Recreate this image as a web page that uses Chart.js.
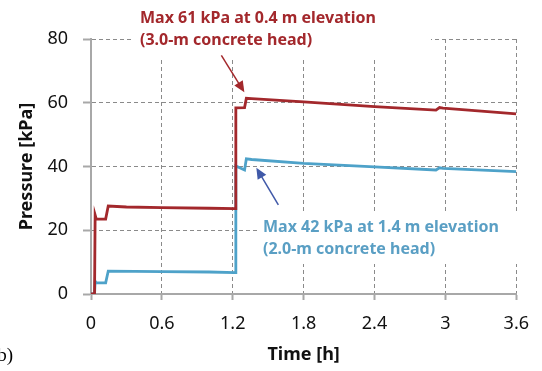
<!DOCTYPE html>
<html>
<head>
<meta charset="utf-8">
<script src="https://cdn.jsdelivr.net/npm/chart.js@4/dist/chart.umd.min.js"></script>
<style>
  html, body { margin: 0; padding: 0; background: #fff; }
  #wrap { width: 542px; height: 371px; position: relative; }
</style>
</head>
<body>
<div id="wrap"><canvas id="pressureCanvas" width="542" height="371"></canvas></div>
<script>
// 3.0-m concrete head (0.4 m elevation)
const redTimes = [0, 0.03, 0.035, 0.045, 0.124, 0.146, 0.3, 0.6, 1.0, 1.22, 1.226, 1.30, 1.315, 1.36, 1.8, 2.4, 2.92, 2.95, 2.98, 3.6];
const redValues = [0, 0, 24.8, 23.5, 23.5, 27.6, 27.3, 27.1, 26.9, 26.8, 58.4, 58.5, 61.4, 61.3, 60.3, 58.8, 57.7, 58.5, 58.3, 56.5];

// 2.0-m concrete head (1.4 m elevation)
const blueTimes = [0, 0.03, 0.035, 0.045, 0.124, 0.146, 0.6, 1.0, 1.22, 1.226, 1.30, 1.315, 1.36, 1.8, 2.4, 2.92, 2.95, 2.98, 3.6];
const blueValues = [0, 0, 4.0, 3.5, 3.5, 7.2, 7.0, 6.9, 6.7, 40.2, 38.9, 42.4, 42.2, 41.0, 39.9, 38.9, 39.6, 39.4, 38.4];

const xTicks = [0, 0.6, 1.2, 1.8, 2.4, 3, 3.6];
const yTicks = [0, 20, 40, 60, 80];

const redNote = ['Max 61 kPa at 0.4 m elevation', '(3.0-m concrete head)'];
const blueNote = ['Max 42 kPa at 1.4 m elevation', '(2.0-m concrete head)'];

const RED = '#a3282c';
const BLUE = '#4ea2c9';
const GRID = '#8a8a8a';
const AXIS = '#a8a8a8';

function toPoints(xs, ys) {
  return xs.map((x, i) => ({ x: x, y: ys[i] }));
}

function peakIndex(values) {
  return values.indexOf(Math.max(...values));
}

function arrow(ctx, x1, y1, x2, y2, color) {
  const ang = Math.atan2(y2 - y1, x2 - x1);
  const len = 11, half = 5;
  ctx.save();
  ctx.strokeStyle = color;
  ctx.fillStyle = color;
  ctx.lineWidth = 1.5;
  ctx.beginPath();
  ctx.moveTo(x1, y1);
  ctx.lineTo(x2 - Math.cos(ang) * len * 0.8, y2 - Math.sin(ang) * len * 0.8);
  ctx.stroke();
  ctx.beginPath();
  ctx.moveTo(x2, y2);
  ctx.lineTo(x2 - Math.cos(ang) * len + Math.sin(ang) * half, y2 - Math.sin(ang) * len - Math.cos(ang) * half);
  ctx.lineTo(x2 - Math.cos(ang) * len - Math.sin(ang) * half, y2 - Math.sin(ang) * len + Math.cos(ang) * half);
  ctx.closePath();
  ctx.fill();
  ctx.restore();
}

// white boxes under the notes hide the grid, then notes and arrows on top
const notesPlugin = {
  id: 'notes',
  beforeDatasetsDraw(chart) {
    const ctx = chart.ctx;
    ctx.save();
    ctx.fillStyle = '#fff';
    ctx.fillRect(131, 0, 300, 60);
    ctx.fillRect(260, 212, 275, 52);
    ctx.restore();
  },
  afterDatasetsDraw(chart) {
    const ctx = chart.ctx;
    const xs = chart.scales.x, ys = chart.scales.y;
    ctx.save();
    ctx.font = 'bold 16px "Noto Sans"';
    ctx.textBaseline = 'middle';
    ctx.textAlign = 'left';
    ctx.fillStyle = RED;
    ctx.fillText(redNote[0], 140, 18);
    ctx.fillText(redNote[1], 140, 40);
    ctx.fillStyle = '#5a9fc4';
    ctx.fillText(blueNote[0], 263, 227);
    ctx.fillText(blueNote[1], 263, 249);

    ctx.font = '19px "Liberation Serif"';
    ctx.fillStyle = '#000';
    ctx.textAlign = 'right';
    ctx.fillText('(b)', 13, 356);
    ctx.restore();

    const ri = peakIndex(redValues);
    const rx = xs.getPixelForValue(redTimes[ri]);
    const ry = ys.getPixelForValue(redValues[ri]);
    arrow(ctx, rx - 25, ry - 43, rx - 2, ry - 6, RED);

    const bi = peakIndex(blueValues);
    const bx = xs.getPixelForValue(blueTimes[bi]);
    const by = ys.getPixelForValue(blueValues[bi]);
    arrow(ctx, bx + 32, by + 46, bx + 10, by + 9, '#4059a8');
  }
};

new Chart(document.getElementById('pressureCanvas'), {
  type: 'line',
  data: {
    datasets: [
      {
        label: '3.0-m concrete head',
        data: toPoints(redTimes, redValues),
        borderColor: RED,
        borderWidth: 2.8,
        pointRadius: 0,
        tension: 0
      },
      {
        label: '2.0-m concrete head',
        data: toPoints(blueTimes, blueValues),
        borderColor: BLUE,
        borderWidth: 2.8,
        pointRadius: 0,
        tension: 0
      }
    ]
  },
  options: {
    responsive: false,
    animation: false,
    events: [],
    layout: { padding: { top: 39, right: 25, left: 0, bottom: 0 } },
    plugins: {
      legend: { display: false },
      tooltip: { enabled: false }
    },
    scales: {
      x: {
        type: 'linear',
        min: 0,
        max: 3.6,
        afterBuildTicks: (s) => { s.ticks = xTicks.map(v => ({ value: v })); },
        afterFit: (s) => { s.height = 77; },
        ticks: {
          color: '#111',
          font: { family: '"Noto Sans"', size: 18 },
          padding: 13,
          maxRotation: 0,
          callback: (v) => String(v)
        },
        grid: {
          color: GRID,
          lineWidth: 1,
          tickLength: 6,
          tickColor: AXIS,
          tickWidth: 2,
          tickBorderDash: []
        },
        border: { color: AXIS, width: 2, dash: [4, 3] },
        title: {
          display: true,
          text: 'Time [h]',
          color: '#111',
          font: { family: '"Noto Sans"', size: 18, weight: 'bold' },
          padding: { top: 0, bottom: 5 }
        }
      },
      y: {
        min: 0,
        max: 80,
        afterBuildTicks: (s) => { s.ticks = yTicks.map(v => ({ value: v })); },
        afterFit: (s) => { s.width = 91; },
        ticks: {
          color: '#111',
          font: { family: '"Noto Sans"', size: 18 },
          padding: 15,
          callback: (v) => String(v)
        },
        grid: {
          color: GRID,
          lineWidth: 1,
          tickLength: 8,
          tickColor: AXIS,
          tickWidth: 2,
          tickBorderDash: []
        },
        border: { color: AXIS, width: 2, dash: [4, 3] },
        title: {
          display: true,
          text: 'Pressure [kPa]',
          color: '#111',
          font: { family: '"Noto Sans"', size: 18, weight: 'bold' },
          padding: { top: 16, bottom: 0 }
        }
      }
    }
  },
  plugins: [notesPlugin]
});
</script>
</body>
</html>
